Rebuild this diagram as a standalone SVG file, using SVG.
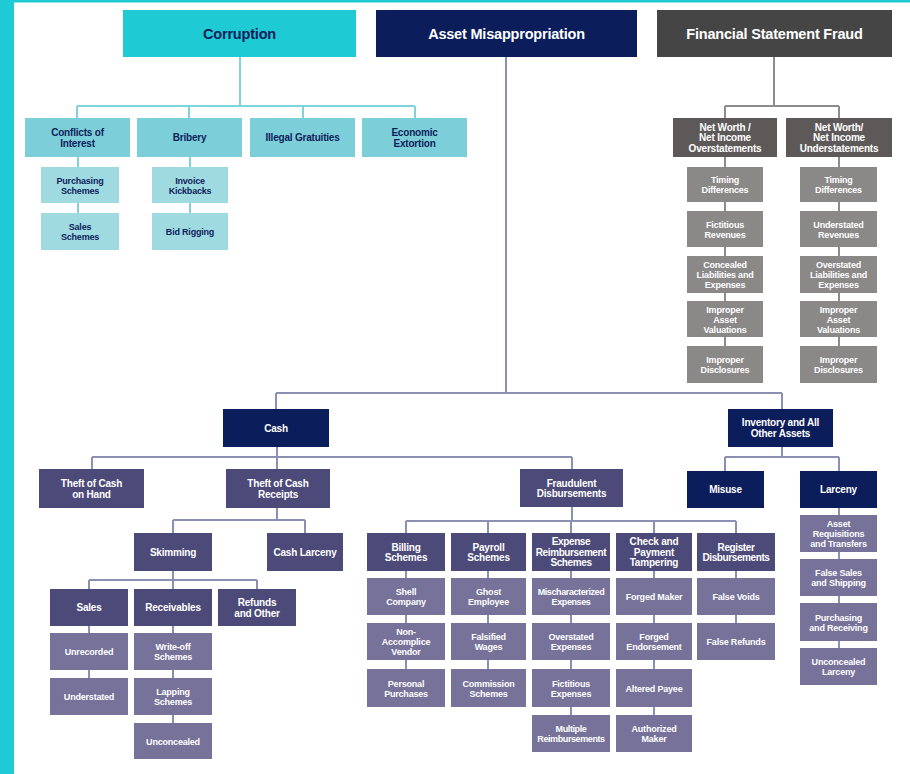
<svg xmlns="http://www.w3.org/2000/svg" width="910" height="774" viewBox="0 0 910 774">
<style>
text{font-family:"Liberation Sans",Arial,sans-serif;font-weight:bold;text-anchor:middle}
.t1{font-size:14.5px;letter-spacing:-0.2px}
.m{font-size:10px;letter-spacing:-0.2px}
.s{font-size:9px;letter-spacing:-0.2px}
.tight{letter-spacing:-0.4px}
.w{fill:#ffffff}
.n{fill:#0e1d5a}
.teal{fill:#1ecbd4}
.teal2{fill:#7ccfd8}
.teal3{fill:#9fdae1}
.navy{fill:#0b1d5b}
.dg{fill:#454545}
.g2{fill:#5e5959}
.g3{fill:#8b8888}
.p1{fill:#4b4a78}
.p2{fill:#76729a}
.ct{stroke:#7fd4dc}
.cg{stroke:#8c8c8c}
.cp{stroke:#8a8fb3}
#connectors path{fill:none;stroke-width:2}
</style>
<rect x="0" y="0" width="910" height="774" fill="#ffffff"/>
<rect x="0" y="0" width="14" height="774" fill="#1ecbd4"/>
<rect x="0" y="0" width="910" height="2.5" fill="#1ecbd4"/>
<g id="connectors">
<path class="ct" d="M240 57V106M77 106H415M77 106V118M189 106V118M303 106V118M415 106V118M78 157V213M190 157V213"/>
<path class="cg" d="M774 57V106M725 106H839M725 106V118M839 106V118M725 157V346M839 157V346"/>
<path class="cp" d="M506 57V393M276 393H782M276 393V409M782 393V409M277 447V469M92 457H572M92 457V469M572 457V469M277 508V520M173 520H305M173 520V533M305 520V533M173 571V580M89 580H257M89 580V589M257 580V589M173 580V759M89 626V715M572 507V521M406 521H736M406 521V707M488 521V707M571 521V752M654 521V752M736 521V660M782 447V457M725 457H839M725 457V471M839 457V685"/>
</g>
<g id="corruption"><rect class="teal" x="123" y="10" width="233" height="47"/><text class="t1 n" x="239.5" y="38.5">Corruption</text></g>
<g id="asset-misappropriation"><rect class="navy" x="376" y="10" width="261" height="47"/><text class="t1 w" x="506.5" y="38.5">Asset Misappropriation</text></g>
<g id="financial-statement-fraud"><rect class="dg" x="657" y="10" width="235" height="47"/><text class="t1 w" x="774.5" y="38.5">Financial Statement Fraud</text></g>

<g id="conflicts-of-interest"><rect class="teal2" x="25" y="118" width="105" height="39"/><text class="m n" x="77.5" y="136"><tspan x="77.5">Conflicts of</tspan><tspan x="77.5" dy="10.5">Interest</tspan></text></g>
<g id="bribery"><rect class="teal2" x="137" y="118" width="105" height="39"/><text class="m n" x="189.5" y="141">Bribery</text></g>
<g id="illegal-gratuities"><rect class="teal2" x="250" y="118" width="105" height="39"/><text class="m n" x="302.5" y="141">Illegal Gratuities</text></g>
<g id="economic-extortion"><rect class="teal2" x="362" y="118" width="105" height="39"/><text class="m n" x="414.5" y="136"><tspan x="414.5">Economic</tspan><tspan x="414.5" dy="10.5">Extortion</tspan></text></g>
<g id="purchasing-schemes"><rect class="teal3" x="41" y="167" width="78" height="36"/><text class="s n" x="80" y="183.5"><tspan x="80">Purchasing</tspan><tspan x="80" dy="10">Schemes</tspan></text></g>
<g id="sales-schemes"><rect class="teal3" x="41" y="213" width="78" height="37"/><text class="s n" x="80" y="230"><tspan x="80">Sales</tspan><tspan x="80" dy="10">Schemes</tspan></text></g>
<g id="invoice-kickbacks"><rect class="teal3" x="152" y="167" width="76" height="36"/><text class="s n" x="190" y="183.5"><tspan x="190">Invoice</tspan><tspan x="190" dy="10">Kickbacks</tspan></text></g>
<g id="bid-rigging"><rect class="teal3" x="152" y="213" width="76" height="37"/><text class="s n" x="190" y="235">Bid Rigging</text></g>

<g id="nw-overstatements"><rect class="g2" x="673" y="118" width="104" height="39"/><text class="m w" x="725" y="130.5"><tspan x="725">Net Worth /</tspan><tspan x="725" dy="10.5">Net Income</tspan><tspan x="725" dy="10.5">Overstatements</tspan></text></g>
<g id="nw-understatements"><rect class="g2" x="786" y="118" width="106" height="39"/><text class="m w" x="839" y="130.5"><tspan x="839">Net Worth/</tspan><tspan x="839" dy="10.5">Net Income</tspan><tspan x="839" dy="10.5">Understatements</tspan></text></g>

<g id="o-timing"><rect class="g3" x="687" y="167" width="76" height="35"/><text class="s w" x="725" y="183"><tspan x="725">Timing</tspan><tspan x="725" dy="10">Differences</tspan></text></g>
<g id="o-fictitious"><rect class="g3" x="687" y="211" width="76" height="36"/><text class="s w" x="725" y="227.5"><tspan x="725">Fictitious</tspan><tspan x="725" dy="10">Revenues</tspan></text></g>
<g id="o-concealed"><rect class="g3" x="687" y="256" width="76" height="37"/><text class="s w" x="725" y="268"><tspan x="725">Concealed</tspan><tspan x="725" dy="10">Liabilities and</tspan><tspan x="725" dy="10">Expenses</tspan></text></g>
<g id="o-asset-valuations"><rect class="g3" x="687" y="301" width="76" height="36"/><text class="s w" x="725" y="312.5"><tspan x="725">Improper</tspan><tspan x="725" dy="10">Asset</tspan><tspan x="725" dy="10">Valuations</tspan></text></g>
<g id="o-disclosures"><rect class="g3" x="687" y="346" width="76" height="37"/><text class="s w" x="725" y="363"><tspan x="725">Improper</tspan><tspan x="725" dy="10">Disclosures</tspan></text></g>

<g id="u-timing"><rect class="g3" x="800" y="167" width="77" height="35"/><text class="s w" x="838.5" y="183"><tspan x="838.5">Timing</tspan><tspan x="838.5" dy="10">Differences</tspan></text></g>
<g id="u-understated"><rect class="g3" x="800" y="211" width="77" height="36"/><text class="s w" x="838.5" y="227.5"><tspan x="838.5">Understated</tspan><tspan x="838.5" dy="10">Revenues</tspan></text></g>
<g id="u-overstated"><rect class="g3" x="800" y="256" width="77" height="37"/><text class="s w" x="838.5" y="268"><tspan x="838.5">Overstated</tspan><tspan x="838.5" dy="10">Liabilities and</tspan><tspan x="838.5" dy="10">Expenses</tspan></text></g>
<g id="u-asset-valuations"><rect class="g3" x="800" y="301" width="77" height="36"/><text class="s w" x="838.5" y="312.5"><tspan x="838.5">Improper</tspan><tspan x="838.5" dy="10">Asset</tspan><tspan x="838.5" dy="10">Valuations</tspan></text></g>
<g id="u-disclosures"><rect class="g3" x="800" y="346" width="77" height="37"/><text class="s w" x="838.5" y="363"><tspan x="838.5">Improper</tspan><tspan x="838.5" dy="10">Disclosures</tspan></text></g>

<g id="cash"><rect class="navy" x="223" y="409" width="106" height="38"/><text class="m w" x="276" y="431.5">Cash</text></g>
<g id="inventory"><rect class="navy" x="728" y="409" width="105" height="38"/><text class="m w" x="780.5" y="426.3"><tspan x="780.5">Inventory and All</tspan><tspan x="780.5" dy="10.5">Other Assets</tspan></text></g>
<g id="theft-cash-on-hand"><rect class="p1" x="39" y="469" width="105" height="39"/><text class="m w" x="91.5" y="487"><tspan x="91.5">Theft of Cash</tspan><tspan x="91.5" dy="10.5">on Hand</tspan></text></g>
<g id="theft-cash-receipts"><rect class="p1" x="226" y="469" width="104" height="39"/><text class="m w" x="278" y="487"><tspan x="278">Theft of Cash</tspan><tspan x="278" dy="10.5">Receipts</tspan></text></g>
<g id="fraudulent-disbursements"><rect class="p1" x="520" y="469" width="103" height="38"/><text class="m w" x="571.5" y="486.5"><tspan x="571.5">Fraudulent</tspan><tspan x="571.5" dy="10.5">Disbursements</tspan></text></g>
<g id="misuse"><rect class="navy" x="687" y="471" width="77" height="37"/><text class="m w" x="725.5" y="493">Misuse</text></g>
<g id="larceny"><rect class="navy" x="800" y="471" width="77" height="37"/><text class="m w" x="838.5" y="493">Larceny</text></g>

<g id="skimming"><rect class="p1" x="134" y="533" width="78" height="38"/><text class="m w" x="173" y="555.5">Skimming</text></g>
<g id="cash-larceny"><rect class="p1" x="267" y="533" width="76" height="38"/><text class="m w" x="305" y="555.5">Cash Larceny</text></g>
<g id="sales"><rect class="p1" x="50" y="589" width="78" height="37"/><text class="m w" x="89" y="611">Sales</text></g>
<g id="receivables"><rect class="p1" x="134" y="589" width="78" height="37"/><text class="m w" x="173" y="611">Receivables</text></g>
<g id="refunds-other"><rect class="p1" x="218" y="589" width="78" height="37"/><text class="m w" x="257" y="606"><tspan x="257">Refunds</tspan><tspan x="257" dy="10.5">and Other</tspan></text></g>
<g id="unrecorded"><rect class="p2" x="50" y="633" width="78" height="37"/><text class="s w" x="89" y="655">Unrecorded</text></g>
<g id="understated"><rect class="p2" x="50" y="678" width="78" height="37"/><text class="s w" x="89" y="700">Understated</text></g>
<g id="write-off"><rect class="p2" x="134" y="633" width="78" height="37"/><text class="s w" x="173" y="650"><tspan x="173">Write-off</tspan><tspan x="173" dy="10">Schemes</tspan></text></g>
<g id="lapping"><rect class="p2" x="134" y="678" width="78" height="37"/><text class="s w" x="173" y="695"><tspan x="173">Lapping</tspan><tspan x="173" dy="10">Schemes</tspan></text></g>
<g id="unconcealed"><rect class="p2" x="134" y="723" width="78" height="36"/><text class="s w" x="173" y="744.5">Unconcealed</text></g>

<g id="billing"><rect class="p1" x="367" y="533" width="78" height="38"/><text class="m w" x="406" y="550.5"><tspan x="406">Billing</tspan><tspan x="406" dy="10.5">Schemes</tspan></text></g>
<g id="payroll"><rect class="p1" x="451" y="533" width="75" height="38"/><text class="m w" x="488.5" y="550.5"><tspan x="488.5">Payroll</tspan><tspan x="488.5" dy="10.5">Schemes</tspan></text></g>
<g id="expense"><rect class="p1" x="532" y="533" width="78" height="38"/><text class="m w tight" x="571" y="545"><tspan x="571">Expense</tspan><tspan x="571" dy="10.5">Reimbursement</tspan><tspan x="571" dy="10.5">Schemes</tspan></text></g>
<g id="check-tampering"><rect class="p1" x="616" y="533" width="76" height="38"/><text class="m w" x="654" y="545"><tspan x="654">Check and</tspan><tspan x="654" dy="10.5">Payment</tspan><tspan x="654" dy="10.5">Tampering</tspan></text></g>
<g id="register"><rect class="p1" x="697" y="533" width="78" height="38"/><text class="m w tight" x="736" y="550.5"><tspan x="736">Register</tspan><tspan x="736" dy="10.5">Disbursements</tspan></text></g>

<g id="shell-company"><rect class="p2" x="367" y="578" width="78" height="37"/><text class="s w" x="406" y="595"><tspan x="406">Shell</tspan><tspan x="406" dy="10">Company</tspan></text></g>
<g id="non-accomplice"><rect class="p2" x="367" y="623" width="78" height="37"/><text class="s w" x="406" y="635"><tspan x="406">Non-</tspan><tspan x="406" dy="10">Accomplice</tspan><tspan x="406" dy="10">Vendor</tspan></text></g>
<g id="personal-purchases"><rect class="p2" x="367" y="669" width="78" height="38"/><text class="s w" x="406" y="686.5"><tspan x="406">Personal</tspan><tspan x="406" dy="10">Purchases</tspan></text></g>
<g id="ghost-employee"><rect class="p2" x="451" y="578" width="75" height="37"/><text class="s w" x="488.5" y="595"><tspan x="488.5">Ghost</tspan><tspan x="488.5" dy="10">Employee</tspan></text></g>
<g id="falsified-wages"><rect class="p2" x="451" y="623" width="75" height="37"/><text class="s w" x="488.5" y="640"><tspan x="488.5">Falsified</tspan><tspan x="488.5" dy="10">Wages</tspan></text></g>
<g id="commission"><rect class="p2" x="451" y="669" width="75" height="38"/><text class="s w" x="488.5" y="686.5"><tspan x="488.5">Commission</tspan><tspan x="488.5" dy="10">Schemes</tspan></text></g>
<g id="mischaracterized"><rect class="p2" x="532" y="578" width="78" height="37"/><text class="s w tight" x="571" y="595"><tspan x="571">Mischaracterized</tspan><tspan x="571" dy="10">Expenses</tspan></text></g>
<g id="overstated-exp"><rect class="p2" x="532" y="623" width="78" height="37"/><text class="s w" x="571" y="640"><tspan x="571">Overstated</tspan><tspan x="571" dy="10">Expenses</tspan></text></g>
<g id="fictitious-exp"><rect class="p2" x="532" y="669" width="78" height="38"/><text class="s w" x="571" y="686.5"><tspan x="571">Fictitious</tspan><tspan x="571" dy="10">Expenses</tspan></text></g>
<g id="multiple-reimb"><rect class="p2" x="532" y="715" width="78" height="37"/><text class="s w tight" x="571" y="732"><tspan x="571">Multiple</tspan><tspan x="571" dy="10">Reimbursements</tspan></text></g>
<g id="forged-maker"><rect class="p2" x="616" y="578" width="76" height="37"/><text class="s w" x="654" y="600">Forged Maker</text></g>
<g id="forged-endorsement"><rect class="p2" x="616" y="623" width="76" height="37"/><text class="s w" x="654" y="640"><tspan x="654">Forged</tspan><tspan x="654" dy="10">Endorsement</tspan></text></g>
<g id="altered-payee"><rect class="p2" x="616" y="669" width="76" height="38"/><text class="s w" x="654" y="691.5">Altered Payee</text></g>
<g id="authorized-maker"><rect class="p2" x="616" y="715" width="76" height="37"/><text class="s w" x="654" y="732"><tspan x="654">Authorized</tspan><tspan x="654" dy="10">Maker</tspan></text></g>
<g id="false-voids"><rect class="p2" x="697" y="578" width="78" height="37"/><text class="s w" x="736" y="600">False Voids</text></g>
<g id="false-refunds"><rect class="p2" x="697" y="623" width="78" height="37"/><text class="s w" x="736" y="645">False Refunds</text></g>

<g id="asset-requisitions"><rect class="p2" x="800" y="515" width="77" height="37"/><text class="s w" x="838.5" y="527"><tspan x="838.5">Asset</tspan><tspan x="838.5" dy="10">Requisitions</tspan><tspan x="838.5" dy="10">and Transfers</tspan></text></g>
<g id="false-sales"><rect class="p2" x="800" y="559" width="77" height="37"/><text class="s w" x="838.5" y="576"><tspan x="838.5">False Sales</tspan><tspan x="838.5" dy="10">and Shipping</tspan></text></g>
<g id="purchasing-receiving"><rect class="p2" x="800" y="603" width="77" height="38"/><text class="s w" x="838.5" y="620.5"><tspan x="838.5">Purchasing</tspan><tspan x="838.5" dy="10">and Receiving</tspan></text></g>
<g id="unconcealed-larceny"><rect class="p2" x="800" y="648" width="77" height="37"/><text class="s w" x="838.5" y="665"><tspan x="838.5">Unconcealed</tspan><tspan x="838.5" dy="10">Larceny</tspan></text></g>
</svg>
